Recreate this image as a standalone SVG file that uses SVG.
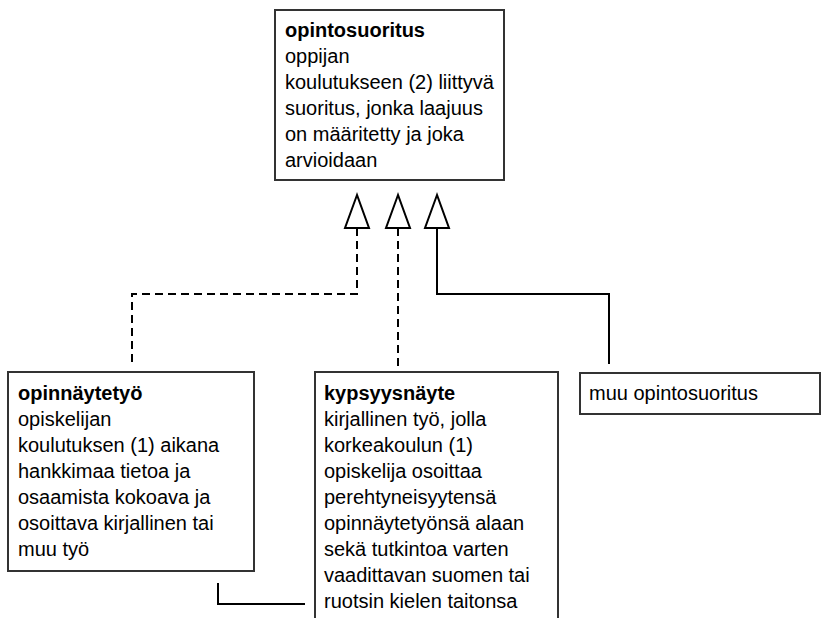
<svg xmlns="http://www.w3.org/2000/svg" width="822" height="618" viewBox="0 0 822 618">
<style>
.box{fill:#fff;stroke:#333;stroke-width:2}
.t{font-family:"Liberation Sans",Arial,sans-serif;font-size:20px;fill:#000}
.b{font-weight:bold}
.ln{fill:none;stroke:#000;stroke-width:2}
.d{stroke-dasharray:8,5}
.tri{fill:#fff;stroke:#000;stroke-width:2}
</style>
<rect width="822" height="618" fill="#fff"/>
<g id="connectors">
<path class="ln d" d="M357,228 V294 H132 V366"/>
<path class="ln d" d="M398,228 V366"/>
<path class="ln" d="M437,228 V294 H609 V364"/>
<polygon class="tri" points="357,195 345,228 369,228"/>
<polygon class="tri" points="398,195 386,228 410,228"/>
<polygon class="tri" points="437,195 425,228 449,228"/>
<path class="ln" d="M218,583 V604 H305"/>
</g>
<g id="opintosuoritus">
<rect class="box" x="275" y="10" width="229" height="170"/>
<text class="t"><tspan class="b" x="285" y="37">opintosuoritus</tspan><tspan x="285" y="63">oppijan</tspan><tspan x="285" y="89">koulutukseen (2) liittyvä</tspan><tspan x="285" y="115">suoritus, jonka laajuus</tspan><tspan x="285" y="141">on määritetty ja joka</tspan><tspan x="285" y="167">arvioidaan</tspan></text>
</g>
<g id="opinnaytetyo">
<rect class="box" x="8" y="372" width="246" height="199"/>
<text class="t"><tspan class="b" x="18" y="400">opinnäytetyö</tspan><tspan x="18" y="426">opiskelijan</tspan><tspan x="18" y="452">koulutuksen (1) aikana</tspan><tspan x="18" y="478">hankkimaa tietoa ja</tspan><tspan x="18" y="504">osaamista kokoava ja</tspan><tspan x="18" y="530">osoittava kirjallinen tai</tspan><tspan x="18" y="556">muu työ</tspan></text>
</g>
<g id="kypsyysnayte">
<rect class="box" x="315" y="372" width="243" height="262"/>
<text class="t"><tspan class="b" x="324" y="400">kypsyysnäyte</tspan><tspan x="324" y="426">kirjallinen työ, jolla</tspan><tspan x="324" y="452">korkeakoulun (1)</tspan><tspan x="324" y="478">opiskelija osoittaa</tspan><tspan x="324" y="504">perehtyneisyytensä</tspan><tspan x="324" y="530">opinnäytetyönsä alaan</tspan><tspan x="324" y="556">sekä tutkintoa varten</tspan><tspan x="324" y="582">vaadittavan suomen tai</tspan><tspan x="324" y="608">ruotsin kielen taitonsa</tspan></text>
</g>
<g id="muu">
<rect class="box" x="580" y="373" width="240" height="41"/>
<text class="t" x="589" y="400">muu opintosuoritus</text>
</g>
</svg>
